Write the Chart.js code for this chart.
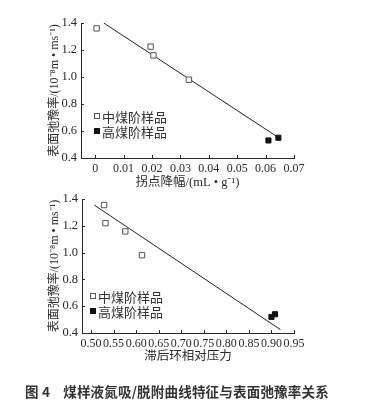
<!DOCTYPE html>
<html>
<head>
<meta charset="utf-8">
<script src="https://cdn.jsdelivr.net/npm/chart.js@4"></script>
<style>
  html, body { margin:0; padding:0; background:#fff; }
  body { width:370px; height:405px; position:relative; overflow:hidden; }
  canvas { position:absolute; left:0; }
  .leg { position:absolute; font-family:'Noto Sans CJK SC', sans-serif; font-size:13px; color:#333; line-height:15px; white-space:nowrap; }
  .mk { display:inline-block; width:4px; height:4px; border:1px solid #555; background:#fff; margin-right:2px; vertical-align:middle; position:relative; top:-2px; }
  .mk.f { background:#111; border-color:#111; }
  #cap { position:absolute; left:25px; top:381px; font-family:'Noto Sans CJK SC', sans-serif; font-weight:bold; font-size:13.5px; color:#333; white-space:nowrap; letter-spacing:0.2px; }
</style>
</head>
<body>
<div id="w1" style="position:absolute;left:0;top:0;width:370px;height:195px;"><canvas id="c1"></canvas></div>
<div id="w2" style="position:absolute;left:0;top:185px;width:370px;height:190px;"><canvas id="c2"></canvas></div>
<div class="leg" style="left:94px;top:109px;"><span class="mk"></span>中煤阶样品</div>
<div class="leg" style="left:94px;top:124px;"><span class="mk f"></span>高煤阶样品</div>
<div class="leg" style="left:90px;top:289px;"><span class="mk"></span>中煤阶样品</div>
<div class="leg" style="left:90px;top:304px;"><span class="mk f"></span>高煤阶样品</div>
<div id="cap">图 4&nbsp;&nbsp;&nbsp;&nbsp;煤样液氮吸/脱附曲线特征与表面弛豫率关系</div>
<script>
// ---- data: chart 1 (inflection drop) ----
const medX1 = [0.0005, 0.0195, 0.0205, 0.033];
const medY1 = [1.36, 1.225, 1.16, 0.98];
const highX1 = [0.061, 0.0645];
const highY1 = [0.53, 0.55];
const fitX1 = [0.003, 0.0642];
const fitY1 = [1.40, 0.556];
// ---- data: chart 2 (hysteresis relative pressure) ----
const medX2 = [0.529, 0.532, 0.576, 0.613];
const medY2 = [1.355, 1.22, 1.158, 0.98];
const highX2 = [0.900, 0.908];
const highY2 = [0.52, 0.54];
const fitX2 = [0.507, 0.920];
const fitY2 = [1.355, 0.425];
// ---- axis labels ----
const yTitle = '表面弛豫率/(10⁻⁸m • ms⁻¹)';
const xTitle1 = '拐点降幅/(mL • g⁻¹)';
const xTitle2 = '滞后环相对压力';

const pts = (xs, ys) => xs.map((x, i) => ({x, y: ys[i]}));
const serif = "'Liberation Serif', 'Noto Sans CJK SC', serif";
const ink = '#2a2a2a';

const innerTicks = {
  id: 'innerTicks',
  afterDraw(chart) {
    const ctx = chart.ctx, a = chart.chartArea;
    ctx.save();
    ctx.strokeStyle = ink; ctx.lineWidth = 1;
    const xs = chart.scales.x, ys = chart.scales.y;
    xs.ticks.forEach(t => {
      const p = Math.round(xs.getPixelForValue(t.value)) + 0.5;
      ctx.beginPath(); ctx.moveTo(p, a.bottom); ctx.lineTo(p, a.bottom - 3); ctx.stroke();
    });
    ys.ticks.forEach(t => {
      const p = Math.round(ys.getPixelForValue(t.value)) + 0.5;
      ctx.beginPath(); ctx.moveTo(a.left, p); ctx.lineTo(a.left + 3, p); ctx.stroke();
    });
    ctx.restore();
  }
};

function make(id, cfg) {
  const {med, high, fit, xmin, xmax, xstep, xfmt, xtitle, pad, yW, xH, yTitlePad, xTitlePad} = cfg;
  return new Chart(document.getElementById(id), {
    type: 'scatter',
    data: {
      datasets: [
        { data: fit, showLine: true, borderColor: '#222', borderWidth: 1, pointRadius: 0, fill: false, order: 3 },
        { data: med, pointStyle: 'rect', pointRadius: 3.8, borderColor: '#555', borderWidth: 1, backgroundColor: '#fff', order: 1 },
        { data: high, pointStyle: 'rect', pointRadius: 3.6, borderColor: '#111', borderWidth: 1, backgroundColor: '#111', order: 2 }
      ]
    },
    options: {
      responsive: true, maintainAspectRatio: false, animation: false,
      layout: { padding: pad },
      plugins: { legend: { display: false }, tooltip: { enabled: false } },
      scales: {
        x: {
          type: 'linear', min: xmin, max: xmax,
          grid: { display: false, drawTicks: false },
          border: { display: true, color: ink, width: 1 },
          ticks: { stepSize: xstep, includeBounds: false, padding: 4, color: ink, maxRotation: 0, autoSkip: false,
                   font: { family: serif, size: 12 }, callback: xfmt },
          title: { display: true, text: xtitle, color: ink, font: { family: serif, size: 12.5 }, padding: { top: 0, bottom: xTitlePad } },
          afterFit: s => { s.height = xH; }
        },
        y: {
          type: 'linear', min: 0.4, max: 1.4,
          grid: { display: false, drawTicks: false },
          border: { display: true, color: ink, width: 1 },
          ticks: { stepSize: 0.2, padding: 4, color: ink, font: { family: serif, size: 12.5 }, callback: v => v.toFixed(1) },
          title: { display: true, text: yTitle, color: ink, font: { family: serif, size: 12 }, padding: { top: yTitlePad, bottom: 0 } },
          afterFit: s => { s.width = yW; }
        }
      }
    },
    plugins: [innerTicks]
  });
}

make('c1', {
  med: pts(medX1, medY1), high: pts(highX1, highY1), fit: pts(fitX1, fitY1),
  xmin: -0.005, xmax: 0.07, xstep: 0.01,
  xfmt: v => Math.abs(v) < 1e-9 ? '0' : v.toFixed(2),
  xtitle: xTitle1,
  pad: { left: 0, right: 76, top: 23, bottom: 0 }, yW: 81, xH: 37, yTitlePad: 48, xTitlePad: 5
});
make('c2', {
  med: pts(medX2, medY2), high: pts(highX2, highY2), fit: pts(fitX2, fitY2),
  xmin: 0.48, xmax: 0.95, xstep: 0.05,
  xfmt: v => v.toFixed(2),
  xtitle: xTitle2,
  pad: { left: 0, right: 76, top: 14, bottom: 0 }, yW: 82, xH: 42, yTitlePad: 48, xTitlePad: 11
});
</script>
</body>
</html>
